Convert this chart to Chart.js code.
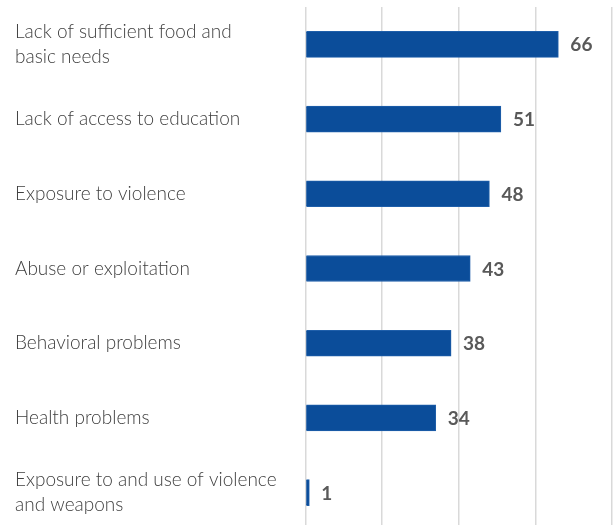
<!DOCTYPE html>
<html>
<head>
<meta charset="utf-8">
<script src="https://cdn.jsdelivr.net/npm/chart.js@4"></script>
<style>
html,body{margin:0;padding:0;background:#fff;overflow:hidden;}
canvas{display:block;}
</style>
</head>
<body>
<canvas id="c" width="613" height="530"></canvas>
<script>
const categories = [
  ["Lack of sufficient food and", "basic needs"],
  "Lack of access to education",
  "Exposure to violence",
  "Abuse or exploitation",
  "Behavioral problems",
  "Health problems",
  ["Exposure to and use of violence", "and weapons"]
];
const values = [66, 51, 48, 43, 38, 34, 1];

const valueLabels = {
  id: 'valueLabels',
  afterDatasetsDraw(chart) {
    const ctx = chart.ctx;
    const meta = chart.getDatasetMeta(0);
    ctx.save();
    ctx.font = 'bold 19px Lato, "Open Sans", sans-serif';
    ctx.fillStyle = '#595959';
    ctx.textAlign = 'left';
    ctx.textBaseline = 'middle';
    meta.data.forEach((bar, i) => {
      ctx.fillText(String(values[i]), bar.x + 12, bar.y + 1);
    });
    ctx.restore();
  }
};

new Chart(document.getElementById('c'), {
  type: 'bar',
  data: {
    labels: categories,
    datasets: [{
      data: values,
      backgroundColor: '#0B4D9A',
      borderColor: '#1F5FAA',
      borderWidth: 1,
      barThickness: 26
    }]
  },
  options: {
    indexAxis: 'y',
    responsive: false,
    animation: false,
    layout: { padding: { top: 7, bottom: 0, left: 15, right: 1 } },
    plugins: { legend: { display: false }, tooltip: { enabled: false } },
    scales: {
      x: {
        min: 0, max: 80,
        ticks: { display: false, stepSize: 20 },
        grid: { color: '#D9D9D9', lineWidth: 1.5, drawTicks: false },
        border: { display: false },
        afterFit(axis) { axis.height = 0; axis.paddingLeft = 0; axis.paddingRight = 0; }
      },
      y: {
        grid: { display: false },
        border: { display: false },
        ticks: {
          crossAlign: 'far',
          color: '#404040',
          font: { family: 'Lato', size: 19, weight: 300, lineHeight: 1.32 }
        },
        afterFit(axis) { axis.width = 290.5; axis.paddingTop = 0; axis.paddingBottom = 0; }
      }
    }
  },
  plugins: [valueLabels]
});
</script>
</body>
</html>
